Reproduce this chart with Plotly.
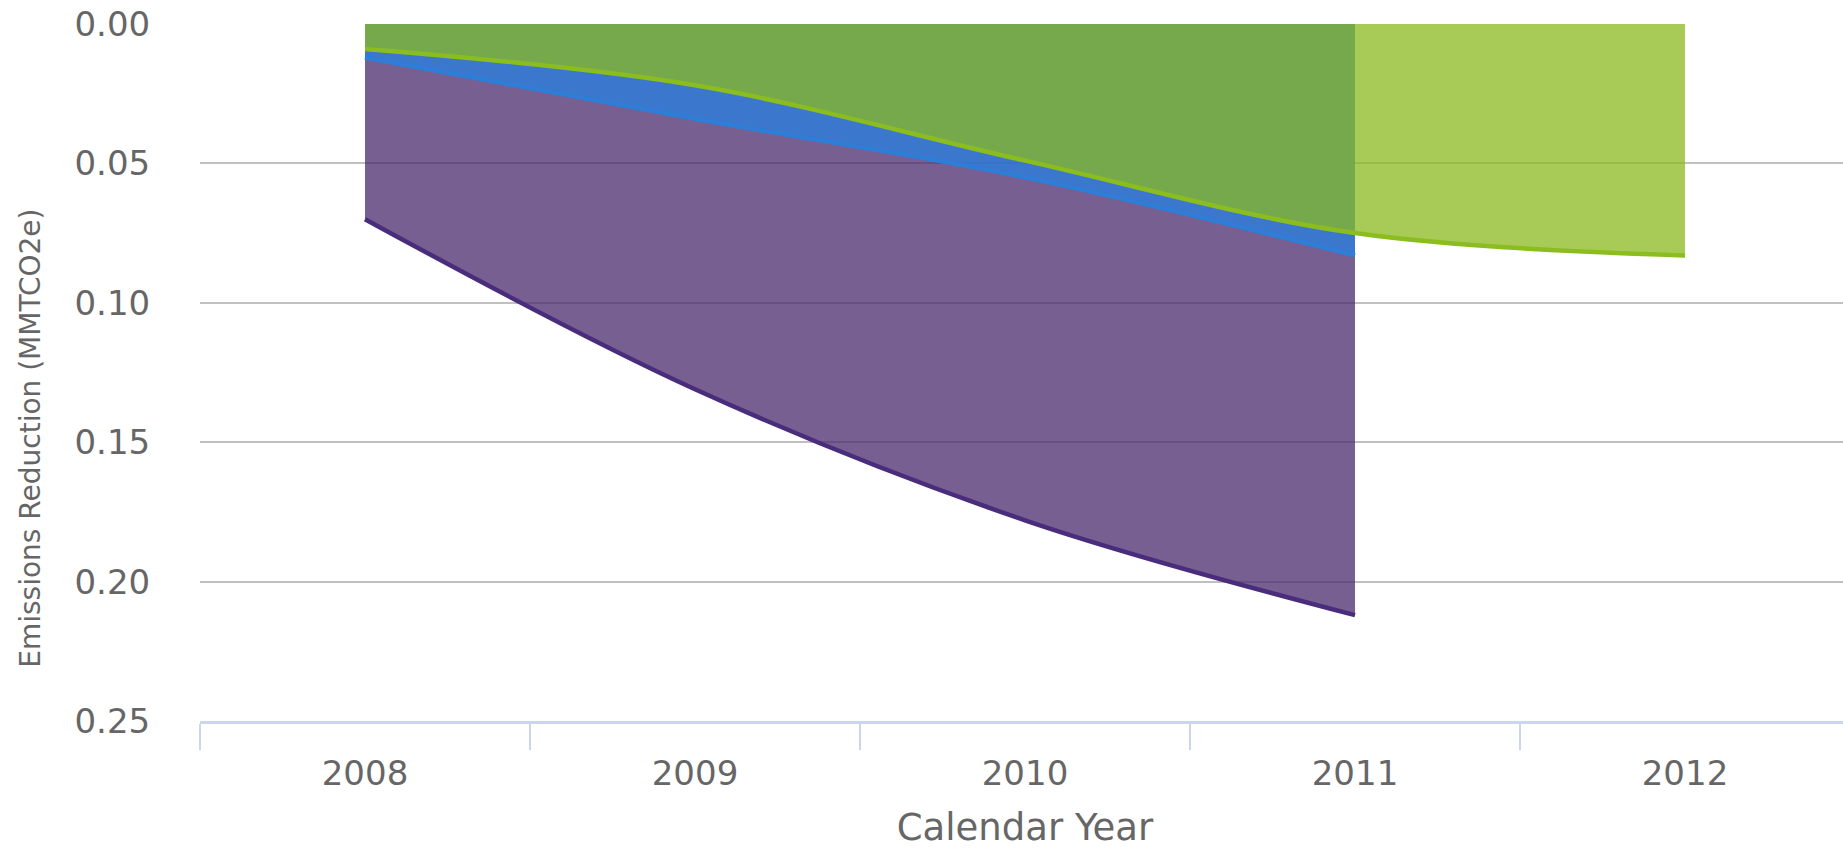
import plotly.graph_objects as go

years = ["2008", "2009", "2010", "2011", "2012"]
purple_vals = [0.070, 0.131, 0.178, 0.212]
blue_vals = [0.012, 0.034, 0.055, 0.083]
green_vals = [0.009, 0.022, 0.049, 0.075, 0.083]

FONT = "DejaVu Sans"
GRAY = "#666666"

fig = go.Figure()
fig.add_trace(go.Scatter(
    x=years[:len(purple_vals)], y=purple_vals, mode="lines", name="Purple",
    line=dict(color="#4a2c7c", width=4.5, shape="spline"),
    fill="tozeroy", fillcolor="rgba(73,42,108,0.75)",
))
fig.add_trace(go.Scatter(
    x=years[:len(blue_vals)], y=blue_vals, mode="lines", name="Blue",
    line=dict(color="#2e7dd6", width=4.5, shape="spline"),
    fill="tozeroy", fillcolor="rgba(39,128,225,0.75)",
))
fig.add_trace(go.Scatter(
    x=years, y=green_vals, mode="lines", name="Green",
    line=dict(color="#8bbd1e", width=4.5, shape="spline"),
    fill="tozeroy", fillcolor="rgba(139,186,32,0.75)",
))

fig.update_layout(
    width=1850, height=849,
    margin=dict(l=200, r=0, t=24, b=128, autoexpand=False),
    paper_bgcolor="white", plot_bgcolor="white",
    showlegend=False,
    font=dict(family=FONT, color=GRAY),
    annotations=[dict(
        text="Emissions Reduction (MMTCO2e)", textangle=-90,
        xref="paper", yref="paper", x=-0.1024, y=0.405,
        xanchor="center", yanchor="middle", showarrow=False,
        font=dict(family=FONT, size=28, color=GRAY),
    )],
)
fig.update_xaxes(
    type="category", categoryorder="array", categoryarray=years,
    range=[-0.5, 4.5], automargin=False,
    showgrid=False, zeroline=False,
    showline=True, linecolor="#ccd6eb", linewidth=3,
    ticks="outside", tickson="boundaries", ticklen=26, tickwidth=2, tickcolor="#ccd6eb",
    ticklabelstandoff=20,
    tickfont=dict(family=FONT, size=34, color=GRAY),
    title=dict(text="Calendar Year", font=dict(family=FONT, size=37, color=GRAY), standoff=27),
)
fig.update_yaxes(
    range=[0.25, 0], dtick=0.05, tickformat=".2f", automargin=False,
    showgrid=True, gridcolor="#c0c0c0", gridwidth=2,
    zeroline=False, showline=False,
    ticks="outside", ticklen=42, tickcolor="rgba(0,0,0,0)",
    ticklabeloverflow="allow",
    tickfont=dict(family=FONT, size=34, color=GRAY),
)

fig.write_html(
    "out.html",
    config={"displayModeBar": False},
    post_script="document.body.style.margin='0';document.body.style.overflow='hidden';",
)
